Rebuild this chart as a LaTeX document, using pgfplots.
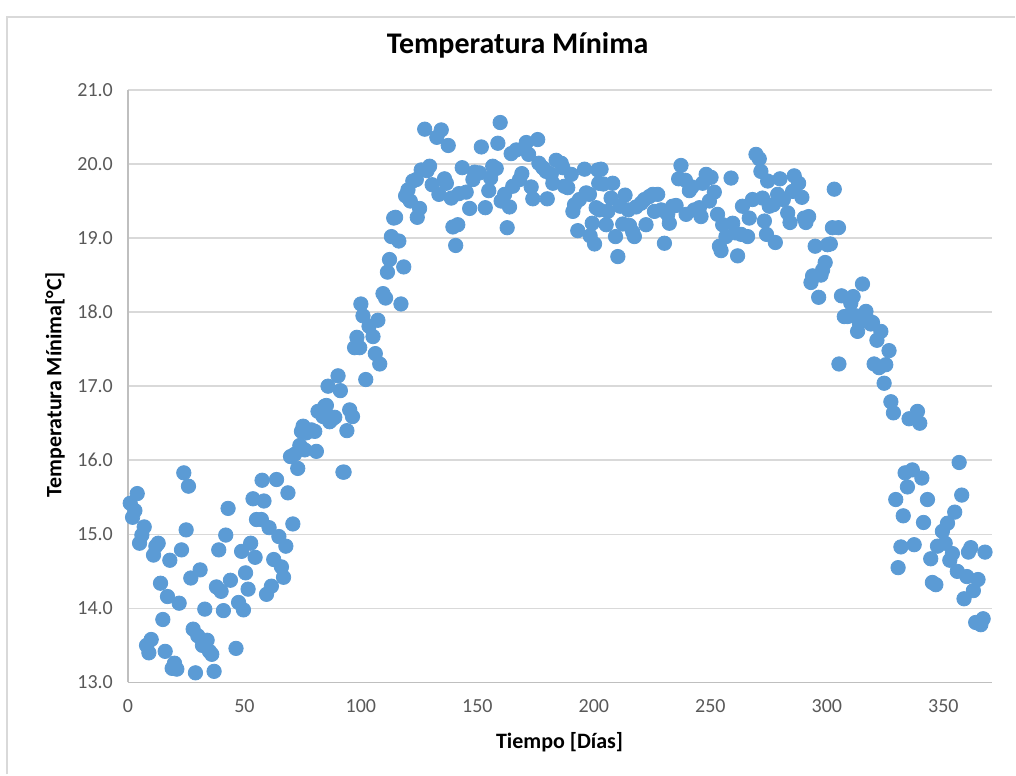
\documentclass[border=0pt]{standalone}
\usepackage{pgfplots}
\pgfplotsset{compat=1.18}
\usepackage{fontspec}
\setmainfont{Carlito}
\definecolor{excelblue}{HTML}{5B9BD5}
\definecolor{gridgray}{HTML}{D9D9D9}
\definecolor{axisgray}{HTML}{BFBFBF}
\definecolor{ticktext}{HTML}{595959}
\begin{document}
\begin{tikzpicture}[x=1pt,y=1pt]
% chart area
\fill[white] (0,0) rectangle (508,387.5);
\draw[gridgray,line width=0.8pt] (3.5,0) -- (3.5,379) -- (508,379);
\begin{axis}[
    at={(64pt,46pt)}, anchor=south west,
    scale only axis, width=432.5pt, height=296.5pt,
    xmin=0, xmax=371, ymin=13, ymax=21,
    xtick={0,50,...,350}, ytick={13,14,...,21},
    axis x line*=bottom, axis y line*=left,
    axis line style={-, draw=axisgray, line width=0.8pt},
    ymajorgrids, grid style={gridgray, line width=0.8pt},
    major tick length=0pt,
    tick label style={font=\fontsize{10}{12}\selectfont, text=ticktext},
    /pgf/number format/assume math mode=true,
    yticklabel style={/pgf/number format/fixed, /pgf/number format/fixed zerofill,
        /pgf/number format/precision=1, xshift=-4pt},
    xticklabel style={yshift=-5pt},
]
\addplot[only marks, mark=*, mark size=3.6pt, color=excelblue,
    mark options={draw=excelblue, fill=excelblue}] table {
x y
1 15.42
2 15.23
3 15.32
4 15.55
5 14.88
6 14.99
7 15.10
8 13.50
9 13.40
10 13.58
11 14.72
12 14.84
13 14.88
14 14.34
15 13.85
16 13.42
17 14.16
18 14.65
19 13.19
20 13.26
21 13.18
22 14.07
23 14.79
24 15.83
25 15.06
26 15.65
27 14.41
28 13.72
29 13.13
30 13.63
31 14.52
32 13.50
33 13.99
34 13.57
35 13.42
36 13.38
37 13.15
38 14.29
39 14.79
40 14.23
41 13.97
42 14.99
43 15.35
44 14.38
46.4 13.46
47.5 14.08
48.8 14.77
49.6 13.98
50.5 14.48
51.6 14.26
52.7 14.88
53.7 15.48
54.6 14.69
55.2 15.20
57.3 15.20
57.6 15.73
58.4 15.45
59.5 14.19
60.6 15.09
61.6 14.30
62.6 14.66
63.8 15.74
64.8 14.97
65.9 14.56
66.8 14.42
67.8 14.84
68.7 15.56
69.8 16.05
70.8 15.14
71.5 16.08
72.9 15.89
73.8 16.20
74.5 16.39
75.2 16.46
75.9 16.14
76.6 16.37
78.8 16.41
80.2 16.39
80.9 16.12
81.6 16.66
83.8 16.59
84.5 16.73
85.2 16.74
85.9 17.00
86.6 16.52
87.5 16.55
88.8 16.58
90.2 17.14
91.2 16.94
92.3 15.84
92.8 15.84
94.0 16.40
95.2 16.68
96.4 16.59
97.3 17.52
98.3 17.66
99.5 17.52
100.0 18.11
100.9 17.95
102.1 17.09
103.5 17.81
105.2 17.67
106.2 17.44
107.3 17.89
108.1 17.30
109.5 18.25
110.6 18.19
111.4 18.54
112.3 18.71
113.1 19.02
114.1 19.27
114.9 19.28
116.3 18.96
117.2 18.11
118.4 18.61
119.2 19.57
120.2 19.65
121.2 19.50
122.3 19.77
123.8 19.79
124.2 19.28
125.2 19.40
125.9 19.92
127.4 20.47
128.4 19.91
129.5 19.97
130.6 19.72
132.6 20.36
133.5 19.59
134.5 20.46
135.9 19.80
136.7 19.74
137.5 20.25
138.8 19.54
139.5 19.15
140.7 18.90
141.6 19.18
142.1 19.60
143.5 19.95
145.2 19.62
146.7 19.40
148.1 19.79
148.8 19.89
150.9 19.88
151.7 20.23
153.4 19.41
154.9 19.64
155.7 19.81
156.6 19.97
158.1 19.94
158.8 20.28
159.8 20.56
160.2 19.50
161.7 19.59
162.8 19.14
163.8 19.42
164.5 20.14
165.2 19.70
166.7 20.19
168.1 19.79
169.1 19.87
171.0 20.29
172.0 20.13
173.1 19.69
173.8 19.53
175.9 20.33
176.4 20.01
178.1 19.95
179.5 19.90
180.0 19.53
181.7 19.86
182.4 19.74
183.8 20.05
186.0 20.01
186.7 19.95
187.4 19.70
188.8 19.68
190.3 19.86
191.0 19.36
191.7 19.45
193.1 19.10
193.8 19.52
196.0 19.93
196.7 19.61
198.1 19.59
198.4 19.03
199.3 19.20
200.3 18.92
201.0 19.41
201.7 19.92
202.1 19.74
202.4 19.38
203.1 19.93
204.1 19.73
205.3 19.18
206.0 19.36
207.4 19.54
208.1 19.74
209.3 19.02
210.3 18.75
211.3 19.43
212.4 19.19
213.4 19.58
214.8 19.38
215.3 19.17
216.7 19.08
217.4 19.02
218.1 19.42
220.3 19.47
221.7 19.52
222.4 19.18
223.8 19.56
225.3 19.59
226.0 19.36
227.4 19.59
228.9 19.38
230.3 18.93
231.7 19.32
232.4 19.20
233.8 19.43
235.3 19.44
236.4 19.80
237.4 19.98
239.3 19.78
239.6 19.32
241.0 19.64
242.1 19.69
243.1 19.38
245.3 19.41
246.0 19.29
246.7 19.74
248.2 19.86
249.6 19.50
250.3 19.82
251.7 19.62
253.1 19.32
253.9 18.89
254.6 18.83
255.3 19.18
256.7 19.02
258.9 19.81
259.6 19.20
260.7 19.07
261.7 18.76
263.2 19.05
263.8 19.43
266.0 19.02
266.7 19.27
268.1 19.52
269.6 20.13
271.0 20.07
271.7 19.90
272.4 19.54
273.2 19.23
274.1 19.05
274.6 19.77
275.3 19.43
277.0 19.45
277.9 18.94
278.9 19.59
279.9 19.80
281.3 19.52
283.2 19.34
284.2 19.21
285.3 19.63
286.0 19.84
287.9 19.74
289.3 19.55
290.3 19.27
291.0 19.21
292.2 19.29
293.2 18.40
293.9 18.49
295.0 18.89
296.5 18.20
297.5 18.50
298.2 18.57
299.3 18.67
300.3 18.91
301.5 18.92
302.4 19.14
303.2 19.66
305.0 19.14
305.2 17.30
306.3 18.22
307.5 17.94
308.9 17.94
310.3 18.12
311.3 18.21
312.5 17.95
313.2 17.74
313.9 17.86
315.3 18.38
316.8 18.01
317.5 17.90
318.9 17.84
319.6 17.86
320.3 17.30
321.5 17.62
322.4 17.25
323.2 17.74
324.6 17.04
325.3 17.29
326.7 17.48
327.5 16.79
328.6 16.64
329.6 15.47
330.6 14.55
331.8 14.83
332.8 15.25
333.6 15.83
334.6 15.64
335.3 16.56
336.7 15.87
337.5 14.86
338.9 16.66
339.9 16.50
340.8 15.76
341.5 15.16
343.2 15.47
344.6 14.67
345.3 14.35
346.8 14.32
347.5 14.84
349.6 15.04
350.8 14.88
351.8 15.15
352.8 14.65
353.9 14.74
354.9 15.30
356.0 14.50
356.8 15.97
357.9 15.53
358.9 14.13
360.1 14.43
360.8 14.76
361.8 14.82
362.9 14.24
363.9 13.81
364.9 14.39
366.1 13.78
367.1 13.86
367.9 14.76
};
\end{axis}
\node[font=\bfseries\fontsize{15}{18}\selectfont] at (259,365) {Temperatura Mínima};
\node[font=\bfseries\fontsize{11}{13}\selectfont, rotate=90] at (27.5,195) {Temperatura Mínima[°C]};
\node[font=\bfseries\fontsize{11}{13}\selectfont] at (280,16) {Tiempo [Días]};
\end{tikzpicture}
\end{document}
